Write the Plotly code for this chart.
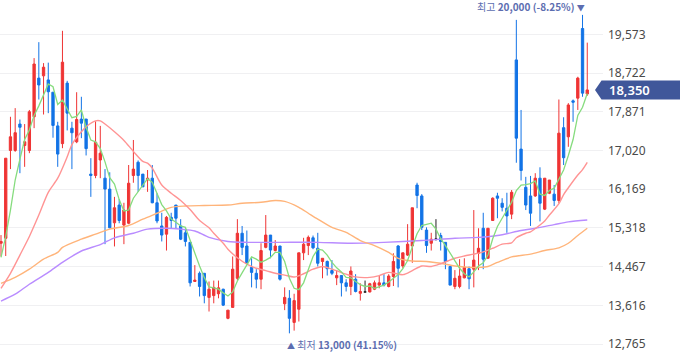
import plotly.graph_objects as go

# ---------------- data ----------------
opens = [14980, 15090, 17020, 17020, 17600, 17130, 17020, 17760, 18610, 18660,
         18570, 18300, 17560, 17170, 18500, 17510, 17210, 17710, 17710, 16500,
         16470, 16810, 16410, 16170, 15430, 15820, 15380, 15420, 16470, 16760,
         16500, 16370, 16410, 15870, 15360, 15180, 15550, 15820, 15360, 15210,
         15000, 14140, 14320, 14320, 13790, 13830, 13870, 13970, 13330, 13570,
         14210, 15200, 14920, 14450, 14320, 14190, 14890, 15160, 14820, 14920,
         13650, 13770, 13240, 13530, 14770, 14930, 15100, 14870, 14580, 14580,
         14380, 14220, 14270, 14110, 14030, 14190, 13880, 13910, 13910, 13970,
         14060, 14110, 14030, 14250, 14920, 14480, 14720, 14920, 16260, 16020,
         15270, 14980, 15070, 15150, 15000, 14470, 14030, 14030, 14220, 14420,
         14410, 14760, 15310, 14650, 15480, 16020, 15860, 15750, 15620, 19010,
         17050, 16210, 16020, 16020, 16410, 15730, 16080, 16060, 15920, 17520,
         17320, 18110, 18170, 19700, 18260]
highs = [15160, 16850, 17760, 17950, 17700, 17600, 17910, 19050, 19400, 18940,
         18950, 18300, 17650, 19650, 18550, 17650, 18300, 18200, 17710, 16850,
         17660, 17560, 16610, 16540, 16000, 15950, 15870, 16700, 17250, 16800,
         16500, 16590, 16700, 16080, 15650, 15580, 15650, 15820, 15510, 15310,
         15000, 14500, 14360, 14320, 14140, 14160, 14160, 13980, 13510, 14690,
         15510, 15360, 15260, 14650, 14410, 14980, 15600, 15160, 15050, 14920,
         14010, 13950, 13870, 14770, 15100, 15150, 15150, 15210, 14650, 14600,
         14610, 14390, 14270, 14190, 14470, 14300, 14100, 14160, 14110, 14160,
         14260, 14300, 14300, 14760, 14940, 14770, 15400, 15760, 16310, 16060,
         15330, 15210, 15510, 15210, 15000, 14470, 14390, 14630, 14650, 14470,
         15710, 15310, 15650, 15310, 15990, 16090, 15970, 16090, 16150, 19890,
         17910, 16440, 16460, 16520, 16650, 16410, 16370, 16260, 18140, 17750,
         18060, 18140, 18640, 20000, 19390]
lows = [14690, 14700, 16610, 16990, 16520, 16660, 16960, 17510, 18140, 17810,
        17840, 17300, 16660, 17070, 17460, 16610, 17180, 17290, 16910, 16000,
        16410, 16410, 14960, 15310, 14910, 15420, 14960, 15400, 16310, 16110,
        16220, 16110, 15860, 15420, 15020, 14820, 15310, 15310, 15050, 14910,
        14030, 14130, 13810, 13660, 13480, 13660, 13770, 13600, 13310, 13570,
        14160, 14720, 14540, 14010, 13990, 13970, 14870, 14650, 14800, 14160,
        13510, 13000, 13060, 13260, 14610, 14720, 14850, 14470, 14210, 14270,
        14280, 14060, 13810, 13920, 13840, 13900, 13720, 13900, 13900, 13950,
        13990, 14030, 14010, 14040, 14010, 14430, 14700, 14550, 15750, 15270,
        14770, 14820, 15040, 14820, 14410, 14060, 13970, 13990, 14210, 13970,
        14010, 14390, 14410, 14650, 15480, 15530, 15680, 15210, 15510, 16750,
        16360, 15710, 15360, 16000, 15460, 15710, 16060, 15800, 15860, 16700,
        17100, 17650, 17910, 18200, 18220]
closes = [15020, 16850, 17320, 17410, 17530, 17210, 17870, 18920, 18460, 18850,
          18310, 17570, 16940, 18960, 17840, 17410, 17700, 17620, 17060, 16470,
          17200, 16960, 16170, 15320, 15760, 15480, 15710, 16300, 16610, 16470,
          16220, 16410, 15870, 15470, 15160, 15550, 15480, 15530, 15070, 15020,
          14110, 14170, 14030, 13830, 13970, 14010, 14000, 13620, 13510, 14410,
          15200, 14890, 14540, 14340, 14190, 14820, 15160, 14830, 14920, 14190,
          13790, 13330, 13720, 14770, 14960, 15110, 14880, 14540, 14650, 14420,
          14320, 14270, 14110, 14030, 14370, 13920, 13920, 13910, 14090, 14110,
          14110, 14060, 14260, 14580, 14430, 14770, 14960, 15760, 16030, 15330,
          14930, 15070, 15070, 15020, 14580, 14060, 14210, 14260, 14450, 14200,
          14610, 14870, 14630, 15310, 15970, 15970, 15770, 15580, 16100, 17290,
          16580, 15820, 15640, 16410, 15860, 16410, 16370, 15920, 17400, 16860,
          18020, 18080, 18610, 18280, 18350]

# moving-average lines
ma5 = [14670, 15130, 15710, 16370, 16830, 17260, 17470, 17790, 18000, 18260,
       18480, 18420, 18030, 18130, 17920, 17740, 17770, 17910, 17530, 17250,
       17210, 17060, 16770, 16420, 16280, 15940, 15690, 15710, 15970, 16110,
       16260, 16400, 16320, 16090, 15830, 15690, 15510, 15440, 15360, 15330,
       15040, 14780, 14480, 14230, 14020, 14000, 13970, 13890, 13820, 13910,
       14150, 14330, 14510, 14680, 14630, 14560, 14610, 14670, 14780, 14780,
       14580, 14210, 13990, 13960, 14110, 14380, 14690, 14850, 14830, 14720,
       14560, 14440, 14350, 14230, 14220, 14140, 14070, 14030, 14040, 13990,
       14030, 14060, 14130, 14220, 14290, 14420, 14600, 14900, 15190, 15370,
       15400, 15420, 15290, 15080, 14930, 14760, 14590, 14430, 14310, 14240,
       14350, 14480, 14550, 14720, 15080, 15350, 15530, 15720, 15880, 16140,
       16260, 16270, 16290, 16350, 16060, 16030, 16140, 16190, 16390, 16590,
       16910, 17260, 17790, 17970, 18270]
ma20_at = [1, 3, 5, 7, 9, 11, 13, 15, 16, 18, 19, 21, 22, 23, 25, 27, 29, 31, 32, 33,
           35, 37, 39, 41, 43, 45, 46, 48, 49, 51, 53, 55, 57, 59, 61, 63, 65, 67, 69, 71,
           74, 76, 79, 81, 83, 86, 88, 90, 92, 94, 97, 99, 101, 103, 105, 107, 109, 110, 112, 113,
           115, 116, 117, 119, 120, 121, 123, 124, 125]
ma20 = [13990, 14320, 14720, 15130, 15600, 16100, 16410, 16880, 17150, 17430, 17540, 17670, 17670, 17600,
        17430, 17240, 17000, 16780, 16740, 16630, 16260, 16080, 15920, 15720, 15480, 15320, 15200, 14980,
        14850, 14660, 14520, 14430, 14380, 14320, 14280, 14240, 14310, 14410, 14470, 14410, 14300, 14240,
        14230, 14270, 14340, 14290, 14380, 14480, 14470, 14530, 14650, 14700, 14740, 14790, 14870, 14960,
        14990, 15100, 15200, 15230, 15380, 15470, 15600, 15850, 16050, 16200, 16480, 16600, 16760]
ma60_at = [1, 4, 7, 10, 13, 14, 18, 21, 24, 28, 31, 34, 37, 40, 44, 49, 52, 56, 59, 61,
           64, 66, 68, 71, 74, 77, 80, 83, 85, 88, 91, 94, 97, 100, 102, 104, 106, 109, 113, 116,
           119, 121, 123, 125]
ma60 = [14100, 14230, 14410, 14630, 14780, 14890, 15070, 15180, 15290, 15370, 15510, 15640, 15770, 15800,
        15810, 15820, 15860, 15880, 15920, 15900, 15770, 15640, 15510, 15330, 15220, 15040, 14930, 14780,
        14650, 14590, 14580, 14540, 14480, 14450, 14450, 14470, 14560, 14680, 14740, 14820, 14880, 14980,
        15150, 15310]
ma120_at = [1, 4, 7, 11, 14, 18, 22, 25, 29, 32, 36, 39, 42, 45, 49, 53, 60, 68, 75, 82,
            90, 97, 102, 106, 111, 114, 118, 121, 125]
ma120 = [13710, 13860, 14080, 14340, 14560, 14810, 14950, 15100, 15200, 15290, 15310, 15290, 15250, 15110,
         15020, 15000, 15000, 15000, 14980, 15000, 15040, 15090, 15110, 15150, 15260, 15310, 15390, 15450,
         15490]

tick_vals = [12765, 13616, 14467, 15318, 16169, 17020, 17871, 18722, 19573]
tick_text = ["12,765", "13,616", "14,467", "15,318", "16,169", "17,020", "17,871", "18,722", "19,573"]

# ---------------- styling ----------------
UP = "#ef3434"
DOWN = "#1273e6"
DOJI = "#222222"
TAG = "#40579a"
NOTE = "#5c6db0"
Y_MIN, Y_MAX = 12458, 20327

idx = list(range(len(closes)))
normal = [i for i in idx if opens[i] != closes[i]]
doji = [i for i in idx if opens[i] == closes[i]]

fig = go.Figure()
fig.add_trace(go.Candlestick(
    x=normal,
    open=[opens[i] for i in normal], high=[highs[i] for i in normal],
    low=[lows[i] for i in normal], close=[closes[i] for i in normal],
    increasing=dict(line=dict(color=UP, width=1), fillcolor=UP),
    decreasing=dict(line=dict(color=DOWN, width=1), fillcolor=DOWN),
    whiskerwidth=0, hoverinfo="skip", showlegend=False))
fig.add_trace(go.Candlestick(
    x=doji,
    open=[opens[i] for i in doji], high=[highs[i] for i in doji],
    low=[lows[i] for i in doji], close=[closes[i] for i in doji],
    increasing=dict(line=dict(color=DOJI, width=1), fillcolor=DOJI),
    decreasing=dict(line=dict(color=DOJI, width=1), fillcolor=DOJI),
    whiskerwidth=0, hoverinfo="skip", showlegend=False))


def add_ma(xs, ys, color, shape, width=1.4):
    fig.add_trace(go.Scatter(x=xs, y=ys, mode="lines", hoverinfo="skip", showlegend=False,
                             line=dict(color=color, width=width, shape=shape, smoothing=0.8)))


add_ma([i - 1 for i in ma120_at], ma120, "#b98cff", "spline")
add_ma([i - 1 for i in ma60_at], ma60, "#ffb47a", "spline")
add_ma([i - 1 for i in ma20_at], ma20, "#ff9494", "spline")
add_ma(idx, ma5, "#86dc7e", "linear", 1.3)

# high / low notes
i_hi = highs.index(max(highs))
i_lo = lows.index(min(lows))
last = closes[-1]
TRI = '<span style="font-size:8px">%s</span>'
fig.add_annotation(x=i_hi, y=highs[i_hi], xref="x", yref="y", showarrow=False,
                   xanchor="right", yanchor="bottom", xshift=4, yshift=-1,
                   text="최고 <b>%s (%.2f%%)</b> %s" % (f"{highs[i_hi]:,}",
                                                     (last / highs[i_hi] - 1) * 100, TRI % "▼"),
                   font=dict(family="Noto Sans CJK KR", size=10, color=NOTE))
fig.add_annotation(x=i_lo, y=lows[i_lo], xref="x", yref="y", showarrow=False,
                   xanchor="left", yanchor="top", xshift=-4, yshift=-2,
                   text="%s 최저 <b>%s (%.2f%%)</b>" % (TRI % "▲", f"{lows[i_lo]:,}",
                                                     (last / lows[i_lo] - 1) * 100),
                   font=dict(family="Noto Sans CJK KR", size=10, color=NOTE))

# current price tag
y_tag = (last - Y_MIN) / (Y_MAX - Y_MIN)
fig.add_shape(type="path", xref="paper", yref="paper", xsizemode="pixel", ysizemode="pixel",
              xanchor=1, yanchor=y_tag,
              path="M -8,0 L -1.5,9.5 L 80,9.5 L 80,-9.5 L -1.5,-9.5 Z",
              fillcolor=TAG, line=dict(width=0), layer="above")
fig.add_annotation(x=1, y=y_tag, xref="paper", yref="paper", showarrow=False,
                   xanchor="left", yanchor="middle", xshift=4,
                   text=f"{last:,}",
                   font=dict(family="Noto Sans", size=13, color="white", weight=600))

fig.update_layout(
    width=680, height=358,
    margin=dict(l=0, r=77, t=0, b=0),
    paper_bgcolor="white", plot_bgcolor="white",
    showlegend=False, hovermode=False,
    xaxis=dict(range=[-0.2115, 127.33], showgrid=False, zeroline=False, showticklabels=False,
               rangeslider=dict(visible=False), fixedrange=True),
    yaxis=dict(range=[Y_MIN, Y_MAX], side="right", tickvals=tick_vals, ticktext=tick_text,
               showgrid=True, gridcolor="#f0f0f2", gridwidth=1, zeroline=False, showline=False,
               ticks="", ticklabelstandoff=4, fixedrange=True,
               tickfont=dict(family="Noto Sans", size=12, color="#4a4a4a")),
)

fig.write_html("out.html", config={"displayModeBar": False},
               post_script="document.body.style.margin='0';")
